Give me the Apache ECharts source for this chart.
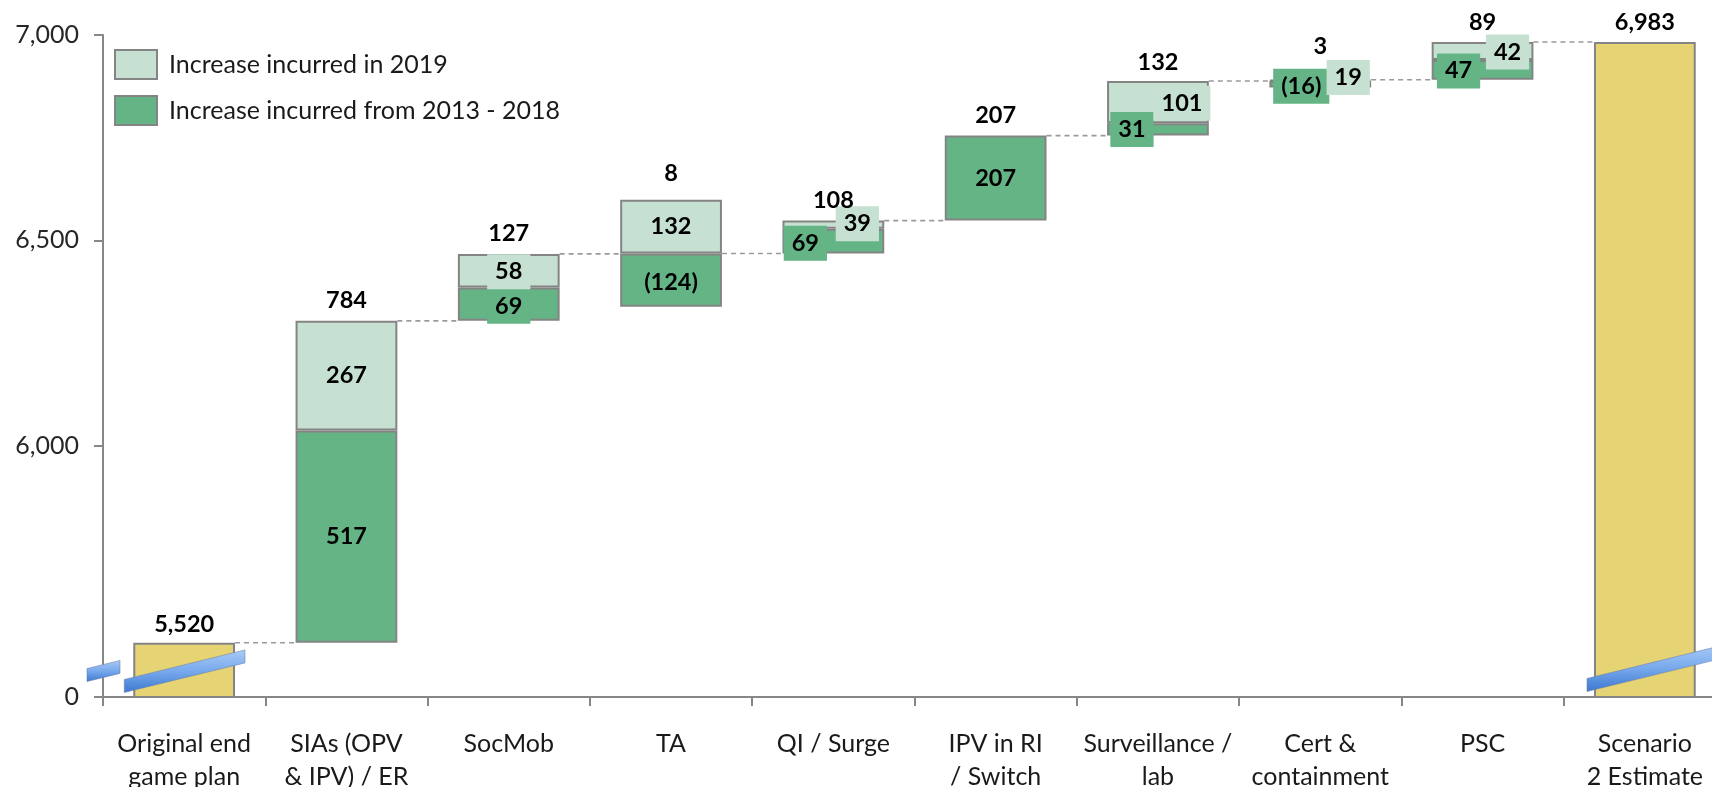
<!DOCTYPE html>
<html><head><meta charset="utf-8">
<script src="https://cdn.jsdelivr.net/npm/echarts@6/dist/echarts.min.js"></script>
<style>html,body{margin:0;padding:0;background:#fff;overflow:hidden;} #c{width:1712px;height:787px;}</style>
</head><body><div id="c"></div>
<script>
// ---- data ----
const categories = ['Original end\ngame plan', 'SIAs (OPV\n& IPV) / ER', 'SocMob', 'TA', 'QI / Surge',
  'IPV in RI\n/ Switch', 'Surveillance /\nlab', 'Cert &\ncontainment', 'PSC', 'Scenario\n2 Estimate'];
// invisible offset under each floating box
const baseVals  = ['-', 5520, 6304, 6338, 6468, 6548, 6755, 6872, 6891, '-'];
// "Increase incurred from 2013 - 2018" box heights as drawn
const darkVals  = ['-', 517, 81, 130, 60, 207, 30, 16, 48, '-'];
// "Increase incurred in 2019" box heights as drawn
const lightVals = ['-', 267, 82, 131, 20, '-', 103, 3, 44, '-'];
// yellow totals
const totalVals = [5520, '-', '-', '-', '-', '-', '-', '-', '-', 6983];
// running level used by the dashed connectors (bar i -> bar i+1)
const connectorLevels = [5520, 6304, 6467, 6468, 6548, 6755, 6888, 6891, 6983];
// printed labels
const totalLabels = ['5,520', '784', '127', '8', '108', '207', '132', '3', '89', '6,983'];
const darkLabels  = ['', '517', '69', '(124)', '69', '207', '31', '(16)', '47', ''];
const lightLabels = ['', '267', '58', '132', '39', '', '101', '19', '42', ''];
// y axis (broken: the bottom tick stands for 0)
const yBreakValue = 5388;
const yTickValues = [yBreakValue, 6000, 6500, 7000];
const yTickLabels = ['0', '6,000', '6,500', '7,000'];
const legendNames = ['Increase incurred in 2019', 'Increase incurred from 2013 - 2018'];

// ---- styles ----
const FONT = 'Lato';
const C_DARK = '#64B486', C_LIGHT = '#C6E1D1', C_YEL = '#E5D374', C_BORDER = '#848484', C_AXIS = '#878787';
const BAR_RATIO = 0.627;
const darkOffsets  = [null, [0,0], [0,2], [0,2], [-28,2], [0,0], [-26,0], [-19,2], [-24,1], null];
const lightOffsets = [null, [0,0], [0,1], [0,0], [24,-1], null, [24,1], [28,-3], [25,1], null];
const totalOffsets = [[0,2], [0,0], [0,0], [0,-6], [0,0], [0,0], [0,1], [0,-13], [0,0], [0,0]];

const inner = (bg) => ({
  show: true, position: 'inside', fontFamily: FONT, fontWeight: 'bold', fontSize: 23.5,
  color: '#000', backgroundColor: bg, padding: [6, 8, 5, 8], lineHeight: 24
});

const chart = echarts.init(document.getElementById('c'), null, {renderer: 'canvas'});
const option = {
  animation: false,
  backgroundColor: '#fff',
  textStyle: {fontFamily: FONT},
  grid: {left: 103, top: 35, width: 1623, height: 662, containLabel: false, outerBoundsMode: 'none'},
  legend: {
    orient: 'vertical', left: 114, top: 49, padding: 0, itemWidth: 42, itemHeight: 29, itemGap: 15,
    data: legendNames, icon: 'rect', selectedMode: false,
    textStyle: {fontFamily: FONT, fontSize: 25, color: '#1a1a1a', padding: [0, 0, 0, 7]}
  },
  xAxis: {
    type: 'category', data: categories,
    axisLine: {lineStyle: {color: C_AXIS, width: 2}},
    axisTick: {show: true, length: 9, alignWithLabel: false, lineStyle: {color: C_AXIS, width: 2}},
    axisLabel: {interval: 0, fontFamily: FONT, fontSize: 25, lineHeight: 33, color: '#1a1a1a', margin: 30}
  },
  yAxis: {
    type: 'value', min: yBreakValue, max: 7000,
    splitLine: {show: false},
    axisLine: {show: true, lineStyle: {color: C_AXIS, width: 2}},
    axisTick: {show: true, length: 9, customValues: yTickValues, lineStyle: {color: C_AXIS, width: 2}},
    axisLabel: {
      customValues: yTickValues, fontFamily: FONT, fontSize: 25, color: '#262626', margin: 24,
      formatter: (v) => { const k = yTickValues.indexOf(v); return k >= 0 ? yTickLabels[k] : ''; }
    }
  },
  series: [
    {
      type: 'custom', name: 'connectors', silent: true, z: 1,
      data: connectorLevels.map((v, i) => [i, v]),
      encode: {x: 0, y: 1},
      renderItem: (params, api) => {
        const i = api.value(0), lv = api.value(1);
        const p1 = api.coord([i, lv]), p2 = api.coord([i + 1, lv]);
        const bw = api.size([1, 0])[0] * BAR_RATIO;
        return {type: 'line', shape: {x1: p1[0] + bw / 2, y1: p1[1], x2: p2[0] - bw / 2, y2: p2[1]},
          style: {stroke: '#9a9a9a', lineWidth: 1.6, lineDash: [5, 4]}};
      }
    },
    {
      type: 'bar', name: 'base', stack: 'wf', barWidth: (BAR_RATIO * 100) + '%', silent: true,
      itemStyle: {color: 'rgba(0,0,0,0)', borderWidth: 0}, data: baseVals
    },
    {
      type: 'bar', name: legendNames[1], stack: 'wf', barWidth: (BAR_RATIO * 100) + '%', z: 2,
      itemStyle: {color: C_DARK, borderColor: C_BORDER, borderWidth: 2},
      data: darkVals.map((v, i) => ({value: v, label: Object.assign(inner(C_DARK), {
        formatter: () => darkLabels[i], offset: darkOffsets[i] || [0, 0]})}))
    },
    {
      type: 'bar', name: legendNames[0], stack: 'wf', barWidth: (BAR_RATIO * 100) + '%', z: 2,
      itemStyle: {color: C_LIGHT, borderColor: C_BORDER, borderWidth: 2},
      data: lightVals.map((v, i) => ({value: v, label: Object.assign(inner(C_LIGHT), {
        formatter: () => lightLabels[i], offset: lightOffsets[i] || [0, 0]})}))
    },
    {
      type: 'bar', name: 'total', stack: 'wf', barWidth: (BAR_RATIO * 100) + '%', z: 2,
      itemStyle: {color: C_YEL, borderColor: C_BORDER, borderWidth: 2}, data: totalVals
    },
    {
      type: 'bar', name: 'sumLabel', stack: 'wf', barWidth: (BAR_RATIO * 100) + '%', silent: true, z: 5,
      itemStyle: {color: 'rgba(0,0,0,0)', borderWidth: 0},
      data: categories.map((c, i) => ({value: 0, label: {
        show: true, position: 'top', distance: 8, fontFamily: FONT, fontWeight: 'bold', fontSize: 23.5,
        color: '#000', formatter: () => totalLabels[i], offset: totalOffsets[i]}}))
    }
  ]
};
chart.setOption(option);

// axis-break marks, placed from the axis scale
function band(x1, x2, cy1, slope, th) {
  const cy2 = cy1 + slope * (x2 - x1);
  return {
    type: 'polygon', z: 100, silent: true,
    shape: {points: [[x1, cy1 - th / 2], [x2, cy2 - th / 2], [x2, cy2 + th / 2], [x1, cy1 + th / 2]]},
    style: {
      fill: new echarts.graphic.LinearGradient(0, 0, 0, 1, [
        {offset: 0, color: '#A9CBF8'}, {offset: 0.5, color: '#78A9EC'}, {offset: 1, color: '#3B78D0'}]),
      stroke: 'rgba(110,130,165,0.55)', lineWidth: 1
    }
  };
}
const p0 = chart.convertToPixel({gridIndex: 0}, [0, yBreakValue]);
const p1 = chart.convertToPixel({gridIndex: 0}, [1, yBreakValue]);
const p9 = chart.convertToPixel({gridIndex: 0}, [9, yBreakValue]);
const catW = p1[0] - p0[0];
const bw = catW * BAR_RATIO;
const axisY = p0[1];
const axisX = p0[0] - catW / 2;
const slope = -0.245;
chart.setOption({
  graphic: [
    band(axisX - 16, axisX + 17, axisY - 22, slope, 13),
    band(p0[0] - bw / 2 - 9, p0[0] + bw / 2 + 10, axisY - 11, slope, 13),
    band(p9[0] - bw / 2 - 7, p9[0] + bw / 2 + 30, axisY - 12, slope, 13)
  ]
});
</script></body></html>
